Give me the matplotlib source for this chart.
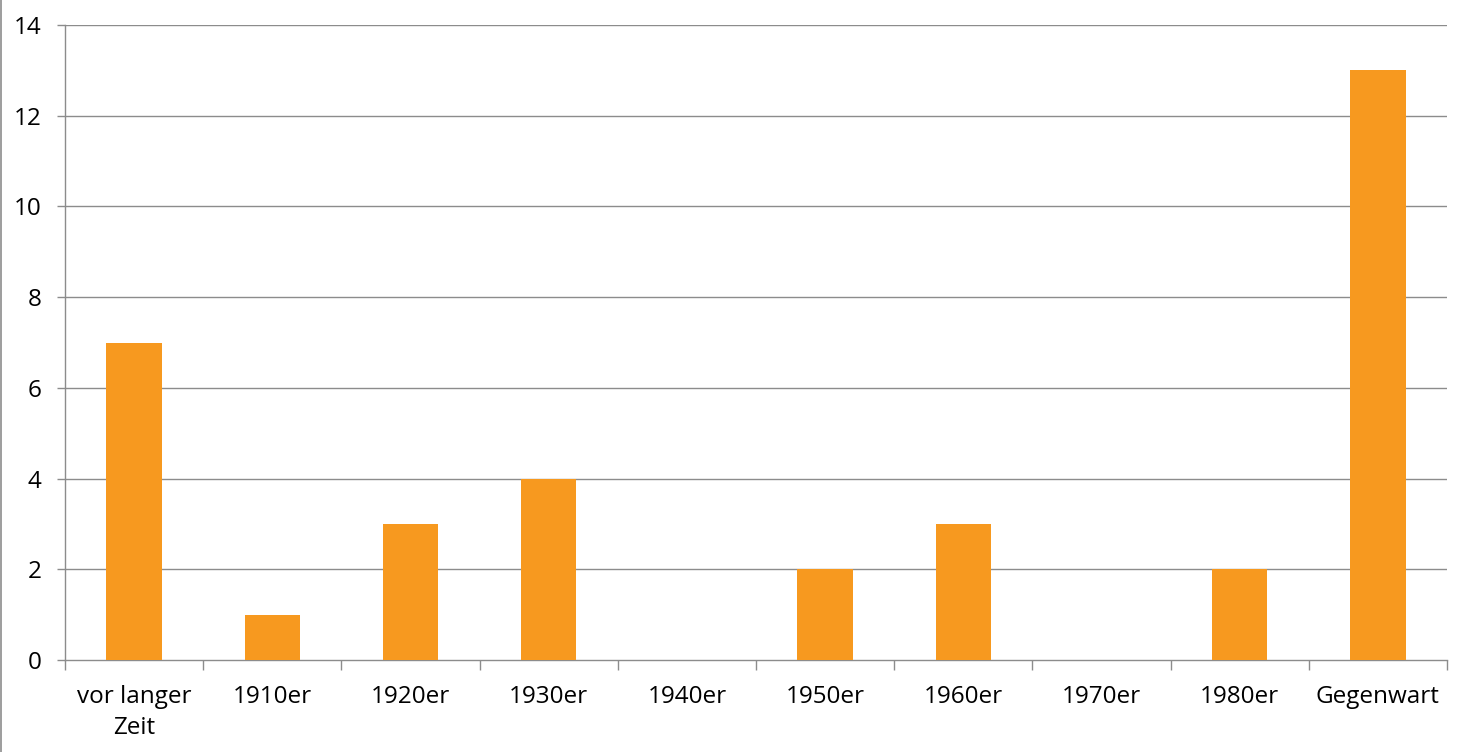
import matplotlib
matplotlib.use('Agg')
import matplotlib.pyplot as plt
from matplotlib.lines import Line2D
import numpy as np

plt.rcParams['font.family'] = ['Open Sans', 'DejaVu Sans']

categories = ['vor langer\nZeit', '1910er', '1920er', '1930er', '1940er',
              '1950er', '1960er', '1970er', '1980er', 'Gegenwart']
values = [7, 1, 3, 4, 0, 2, 3, 0, 2, 13]
yticks = [0, 2, 4, 6, 8, 10, 12, 14]

grey = '#8c8c8c'
bar_color = '#F7991F'

fig = plt.figure(figsize=(14.66, 7.52), dpi=100)
ax = fig.add_axes([65/1466, 92/752, (1447-65)/1466, (660-25)/752])

x = np.arange(len(categories))
ax.bar(x, values, width=0.4, color=bar_color, zorder=3)

ax.set_xlim(-0.5, len(categories) - 0.5)
ax.set_ylim(0, 14)
ax.set_yticks(yticks)
ax.set_yticklabels([str(t) for t in yticks], fontsize=17.5)
for t in yticks[1:]:
    ax.axhline(t, color=grey, lw=1, zorder=1)

# category labels in the middle, tick marks on the borders
ax.set_xticks(x)
ax.set_xticklabels(categories, fontsize=17.5, linespacing=1.4)
ax.tick_params(axis='x', length=0, pad=18)
ax.set_xticks(np.arange(-0.5, len(categories)), minor=True)
ax.tick_params(axis='x', which='minor', length=7, color=grey, width=1)
ax.tick_params(axis='y', length=6, color=grey, width=1, pad=11)

for s in ['top', 'right']:
    ax.spines[s].set_visible(False)
for s in ['left', 'bottom']:
    ax.spines[s].set_color(grey)
    ax.spines[s].set_linewidth(1)

fig.add_artist(Line2D([0.0007, 0.0007], [0, 1], color=grey, lw=1.2, transform=fig.transFigure))

fig.savefig('out.png', dpi=100)
